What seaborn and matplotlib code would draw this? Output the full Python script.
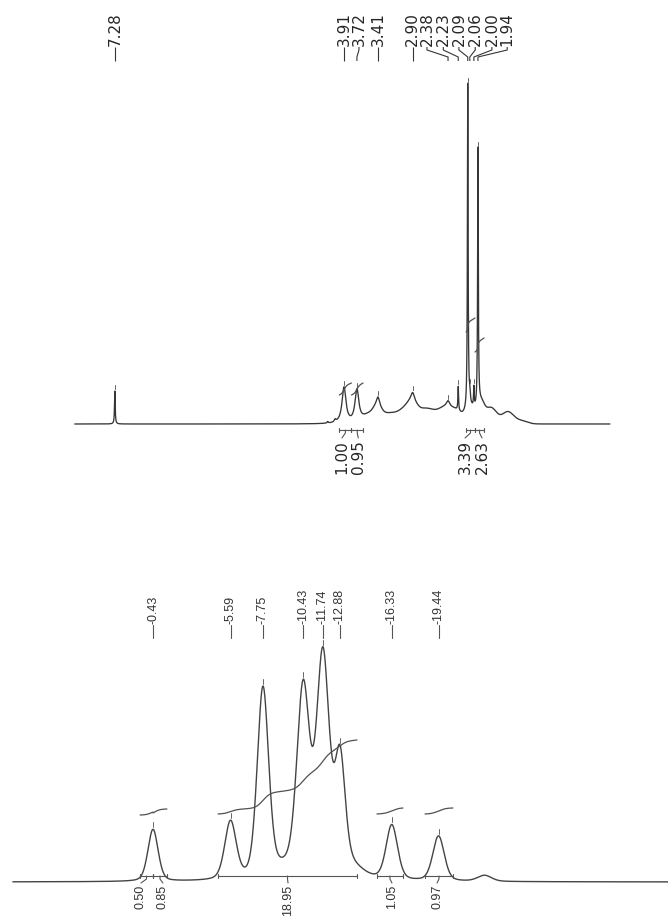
import numpy as np
import pandas as pd
import matplotlib
matplotlib.use("Agg")
import matplotlib.pyplot as plt
import seaborn as sns

# ---------------- data ----------------
# upper spectrum: sharp (Lorentzian) lines
top_sharp_ppm = [7.28, 4.15, 4.04, 3.91, 3.72, 3.41, 2.90, 2.38, 2.23, 2.09, 2.06, 2.00, 1.94]
top_sharp_height = [33, 1.5, 2.5, 36, 33, 8, 8, 6, 24, 325, 10, 20, 258]
top_sharp_hwhm = [0.006, 0.01, 0.015, 0.035, 0.035, 0.025, 0.03, 0.03, 0.006, 0.006, 0.01, 0.006, 0.006]
# upper spectrum: broad (Gaussian) humps
top_broad_ppm = [3.55, 3.42, 3.25, 3.00, 2.90, 2.70, 2.42, 2.25, 2.05, 1.90, 1.75, 1.50, 1.30]
top_broad_height = [8, 12, 10, 13, 10, 15, 14, 10, 15, 18, 16, 12, 3]
top_broad_hwhm = [0.10, 0.07, 0.15, 0.12, 0.08, 0.16, 0.12, 0.10, 0.08, 0.06, 0.10, 0.10, 0.10]
top_range = [7.87, 0.0]

top_peak_labels = ["7.28", "3.91", "3.72", "3.41", "2.90", "2.38", "2.23", "2.09", "2.06", "2.00", "1.94"]
top_peak_ppm = [7.28, 3.91, 3.72, 3.41, 2.90, 2.38, 2.23, 2.09, 2.06, 2.00, 1.94]
top_label_ppm = [7.28, 3.91, 3.69, 3.41, 2.90, 2.69, 2.45, 2.22, 1.98, 1.735, 1.51]

top_int_start = [3.98, 3.80, 2.116, 1.984]
top_int_end = [3.80, 3.63, 1.984, 1.85]
top_int_values = ["1.00", "0.95", "3.39", "2.63"]
top_int_label_ppm = [3.94, 3.70, 2.13, 1.88]

# lower spectrum
bot_ppm = [-0.43, -5.59, -7.75, -9.1, -10.43, -11.74, -12.88, -13.5, -16.33, -19.44, -22.5]
bot_height = [52, 58, 190, 8, 188, 220, 110, 12, 55, 45, 6]
bot_hwhm = [0.40, 0.45, 0.45, 0.9, 0.50, 0.50, 0.40, 1.0, 0.45, 0.45, 0.55]
bot_range = [8.9, -34.8]

bot_peak_labels = ["-0.43", "-5.59", "-7.75", "-10.43", "-11.74", "-12.88", "-16.33", "-19.44"]
bot_peak_ppm = [-0.43, -5.59, -7.75, -10.43, -11.74, -12.88, -16.33, -19.44]

bot_int_start = [0.435, -0.43, -4.76, -15.34, -18.54]
bot_int_end = [-0.43, -1.36, -14.01, -17.07, -20.40]
bot_int_values = ["0.50", "0.85", "18.95", "1.05", "0.97"]
bot_int_label_ppm = [0.37, -1.09, -9.42, -16.34, -19.34]

# ---------------- line shapes ----------------
def lorentz(x, c, h, w):
    return h / (1.0 + ((x - c) / w) ** 2)

def gauss(x, c, h, w):
    return h * np.exp(-np.log(2) * ((x - c) / w) ** 2)

def pvoigt(x, c, h, w, eta=0.3):
    return (1 - eta) * gauss(x, c, h, w) + eta * lorentz(x, c, h, w)

x_top = np.linspace(top_range[0], top_range[1], 9000)
y_top = np.zeros_like(x_top)
for c, h, w in zip(top_sharp_ppm, top_sharp_height, top_sharp_hwhm):
    y_top += lorentz(x_top, c, h, w)
for c, h, w in zip(top_broad_ppm, top_broad_height, top_broad_hwhm):
    y_top += gauss(x_top, c, h, w)
df_top = pd.DataFrame({"ppm": x_top, "intensity": y_top})

x_bot = np.linspace(bot_range[0], bot_range[1], 6000)
y_bot = np.full_like(x_bot, -2.0)
for c, h, w in zip(bot_ppm, bot_height, bot_hwhm):
    y_bot += pvoigt(x_bot, c, h, w)
df_bot = pd.DataFrame({"ppm": x_bot, "intensity": y_bot})

# ---------------- figure ----------------
sns.set_style("white")
plt.rcParams["font.family"] = ["DejaVu Sans"]

W, H = 668, 919
fig = plt.figure(figsize=(W / 100, H / 100), dpi=100)
fig.patch.set_facecolor("white")

TOP_SPLIT = 480
ax1 = fig.add_axes([0, (H - TOP_SPLIT) / H, 1, TOP_SPLIT / H])
ax2 = fig.add_axes([0, 0, 1, (H - TOP_SPLIT) / H])

# pixel-based geometry: y data unit = 1 px above the baseline
TOP_BASE = 424
BOT_BASE = 880
ax1.set_ylim(-(TOP_SPLIT - TOP_BASE), TOP_BASE)
ax2.set_ylim(-(H - BOT_BASE), BOT_BASE - TOP_SPLIT)
ax1.set_xlim(3.91 + 344 / 68.0, 3.91 - (W - 344) / 68.0)
ax2.set_xlim(-0.43 + 153 / 15.02, -0.43 - (W - 153) / 15.02)
for ax in (ax1, ax2):
    ax.axis("off")

LINE = "#363636"
TXT = "#262626"
top_font = dict(family=["DejaVu Sans"], size=11, color=TXT)
bot_font = dict(family=["Liberation Sans", "DejaVu Sans"], size=9, color="#333333")

sns.lineplot(data=df_top, x="ppm", y="intensity", ax=ax1, color=LINE, lw=0.95,
             estimator=None, sort=False, legend=False)
sns.lineplot(data=df_bot, x="ppm", y="intensity", ax=ax2, color="#444444", lw=1.0,
             estimator=None, sort=False, legend=False)

def t_y(row):
    return TOP_BASE - row

def b_y(row):
    return BOT_BASE - row

lk = dict(color=LINE, lw=0.8, solid_capstyle="butt")

# ---- upper peak labels with leaders ----
for lab, p, lp in zip(top_peak_labels, top_peak_ppm, top_label_ppm):
    ax1.text(lp, t_y(46), lab, rotation=90, ha="center", va="bottom", **top_font)
    ax1.plot([lp, lp, p, p], [t_y(47), t_y(50), t_y(57), t_y(61)], **lk)
    ypk = np.interp(p, x_top[::-1], y_top[::-1])
    ax1.plot([p, p], [ypk + 2, ypk + 6], color="#666666", lw=0.7)

# ---- lower peak labels with leaders ----
for lab, p in zip(bot_peak_labels, bot_peak_ppm):
    ax2.text(p, b_y(624), lab, rotation=90, ha="center", va="bottom", **bot_font)
    ax2.plot([p, p], [b_y(625), b_y(638)], color="#555555", lw=0.8)
    ypk = np.interp(p, x_bot[::-1], y_bot[::-1])
    ax2.plot([p, p], [ypk + 2, ypk + 7], color="#666666", lw=0.7)

# ---- integrals ----
def integral_curve(ax, x, y, a, b, row0, rise, to_y):
    m = (x <= a) & (x >= b)
    xs, ys = x[m], np.clip(y[m], 0, None)
    cum = np.concatenate([[0], np.cumsum(0.5 * (ys[1:] + ys[:-1]))])
    cum = cum / cum[-1]
    d = pd.DataFrame({"ppm": xs, "val": to_y(row0) + rise * cum})
    sns.lineplot(data=d, x="ppm", y="val", ax=ax, color="#505050", lw=0.9,
                 estimator=None, sort=False, legend=False)

def bracket(ax, a, b, lab_x, text, row, to_y, font, label_gap):
    c = 0.5 * (a + b)
    ax.plot([a, b], [to_y(row), to_y(row)], color="#555555", lw=0.8)
    for e in (a, b):
        ax.plot([e, e], [to_y(row - 2), to_y(row + 2)], color="#555555", lw=0.8)
    ax.plot([c, c, lab_x], [to_y(row), to_y(row + 3), to_y(row + label_gap - 2)], color="#555555", lw=0.8)
    ax.text(lab_x, to_y(row + label_gap), text, rotation=90, ha="center", va="top", **font)

top_int_row0 = [395, 395, 332, 352]
top_int_rise = [12, 12, 14, 14]
for a, b, r0, rs in zip(top_int_start, top_int_end, top_int_row0, top_int_rise):
    integral_curve(ax1, x_top, y_top, a, b, r0, rs, t_y)
for a, b, lx, v in zip(top_int_start, top_int_end, top_int_label_ppm, top_int_values):
    bracket(ax1, a, b, lx, v, 430, t_y, top_font, 10)

bot_int_row0 = [815, 813, 814, 814, 814]
bot_int_rise = [3, 4, 74, 6, 6]
for a, b, r0, rs in zip(bot_int_start, bot_int_end, bot_int_row0, bot_int_rise):
    integral_curve(ax2, x_bot, y_bot, a, b, r0, rs, b_y)
for a, b, lx, v in zip(bot_int_start, bot_int_end, bot_int_label_ppm, bot_int_values):
    bracket(ax2, a, b, lx, v, 876, b_y, bot_font, 9)

fig.savefig("out.png", dpi=100, facecolor="white")
